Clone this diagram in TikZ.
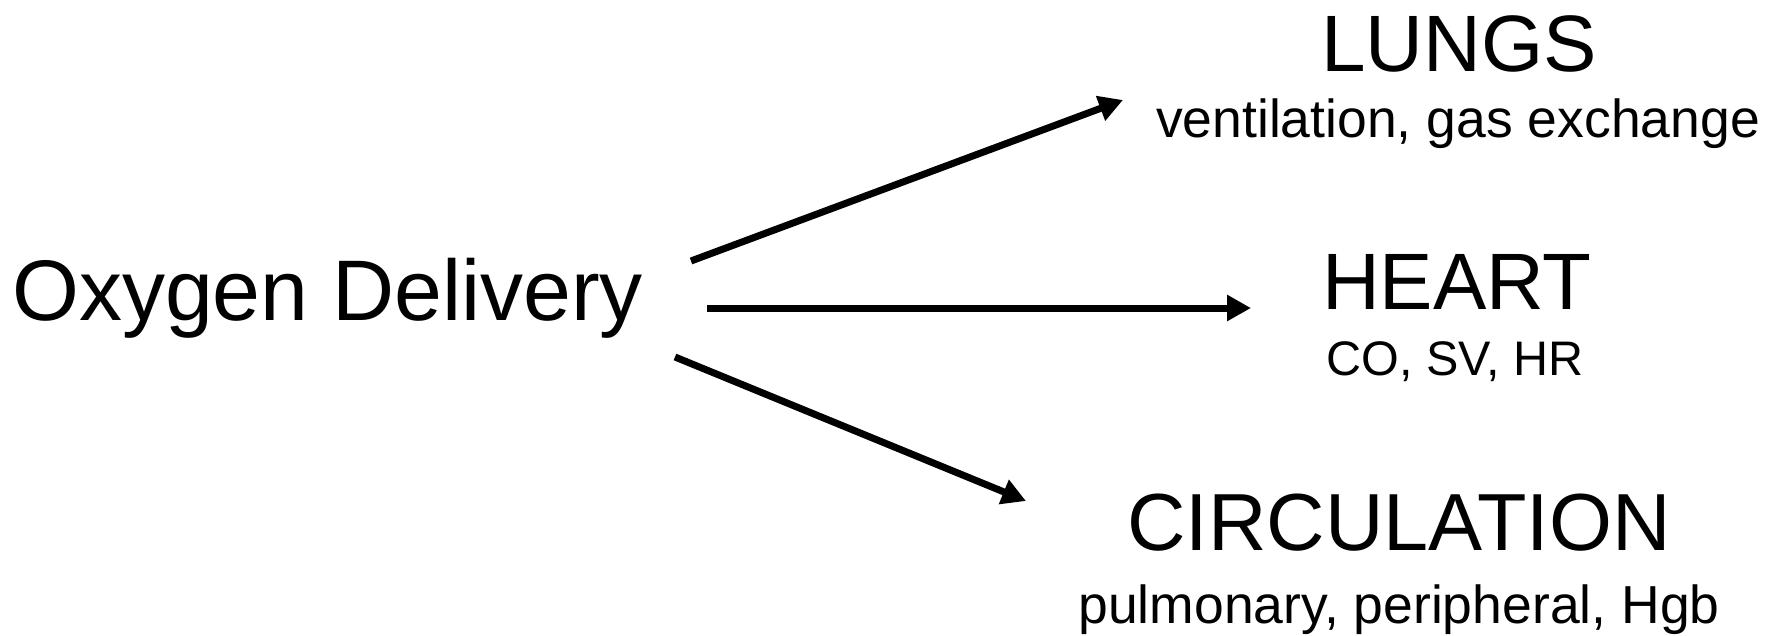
\documentclass[tikz,border=0pt]{standalone}
\usepackage{fontspec}
\setmainfont{Liberation Sans}
\usetikzlibrary{arrows.meta}

\tikzset{
  title/.style={inner sep=0pt, anchor=base, font=\fontsize{80pt}{90pt}\selectfont},
  subtitle/.style={inner sep=0pt, anchor=base, font=\fontsize{53.5pt}{62pt}\selectfont},
  flow/.style={line width=7pt, -{Triangle[length=24pt, width=25pt]}}
}

\begin{document}
\begin{tikzpicture}[x=1pt, y=-1pt]
  \useasboundingbox (0,0) rectangle (1778,635);

  % source
  \node[inner sep=0pt, anchor=base west, font=\fontsize{86pt}{96pt}\selectfont]
    (oxy) at (12,320) {Oxygen Delivery};

  % targets
  \node[title] (lungs) at (1459,71) {LUNGS};
  \node[subtitle] (lungsSub) at (1458,137) {ventilation, gas exchange};

  \node[title] (heart) at (1457,309) {HEART};
  \node[subtitle, font=\fontsize{48.5pt}{56pt}\selectfont] (heartSub) at (1455,375) {CO, SV, HR};

  \node[title, font=\fontsize{81pt}{90pt}\selectfont] (circ) at (1399,550) {CIRCULATION};
  \node[subtitle] (circSub) at (1399,623) {pulmonary, peripheral, Hgb};

  % arrow ends
  \coordinate (s1) at (691,261);
  \coordinate (t1) at (1123,100);
  \coordinate (s2) at (707,308);
  \coordinate (t2) at (1251,308);
  \coordinate (s3) at (675,357);
  \coordinate (t3) at (1026,501);

  \draw[flow] (s1) -- (t1);
  \draw[flow] (s2) -- (t2);
  \draw[flow] (s3) -- (t3);
\end{tikzpicture}
\end{document}
